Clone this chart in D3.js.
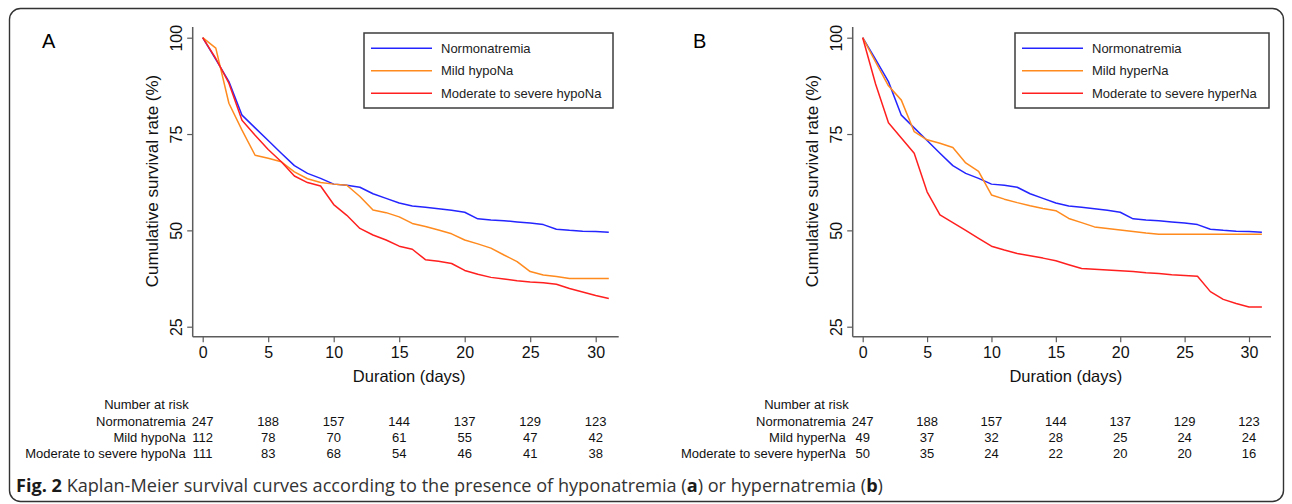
<!DOCTYPE html>
<html>
<head>
<meta charset="utf-8">
<script src="https://cdn.jsdelivr.net/npm/d3@7"></script>
<style>
  body { margin: 0; background: #fff; }
  svg { display: block; }
  text { font-family: "Liberation Sans", Arial, sans-serif; fill: #111; }
</style>
</head>
<body>
<div id="chart"></div>
<script>
// ---- data ----
const days = [0,1,2,3,4,5,6,7,8,9,10,11,12,13,14,15,16,17,18,19,20,21,22,23,24,25,26,27,28,29,30,31];

const normo    = [100,94.4,88.6,79.9,76.6,73.3,70.0,66.8,64.8,63.5,62.0,61.7,61.2,59.5,58.3,57.1,56.3,56.0,55.6,55.2,54.7,53.0,52.7,52.5,52.2,51.9,51.5,50.3,50.0,49.8,49.7,49.5];
const mildHypo = [100,97.3,83.0,76.0,69.5,68.7,67.8,65.2,63.4,62.4,62.0,61.7,58.8,55.3,54.6,53.5,51.8,51.0,50.1,49.1,47.5,46.5,45.4,43.6,41.9,39.3,38.4,38.0,37.5,37.5,37.5,37.5];
const sevHypo  = [100,94.6,88.2,78.6,74.7,71.0,67.8,64.1,62.4,61.5,56.7,53.9,50.5,48.8,47.5,45.9,45.1,42.4,42.0,41.4,39.6,38.6,37.8,37.4,36.9,36.6,36.4,36.0,34.9,34.0,33.1,32.3];
const mildHyper= [100,93.7,87.5,83.8,75.6,73.5,72.6,71.5,67.5,65.3,59.2,58.1,57.2,56.4,55.7,55.1,53.1,52.0,50.9,50.5,50.1,49.7,49.3,49.0,49.0,49.0,49.0,49.0,49.0,49.0,49.0,49.0];
const sevHyper = [100,88.0,77.9,74.0,70.0,60.0,54.0,52.0,50.0,47.9,45.9,44.9,44.0,43.4,42.8,42.1,41.1,40.1,39.9,39.7,39.5,39.3,39.0,38.8,38.5,38.3,38.1,34.1,32.1,31.0,30.1,30.1];

const xTicks = [0,5,10,15,20,25,30];
const yTicks = [25,50,75,100];

const namesA = ["Normonatremia", "Mild hypoNa", "Moderate to severe hypoNa"];
const namesB = ["Normonatremia", "Mild hyperNa", "Moderate to severe hyperNa"];

const riskTimes = [0,5,10,15,20,25,30];
const riskNormo     = [247,188,157,144,137,129,123];
const riskMildHypo  = [112,78,70,61,55,47,42];
const riskSevHypo   = [111,83,68,54,46,41,38];
const riskMildHyper = [49,37,32,28,25,24,24];
const riskSevHyper  = [50,35,24,22,20,20,16];

const colors = ["#2424ff", "#ff8a1e", "#ff1f1f"];
const axisColor = "#5c5c5c";

const W = 1292, H = 504;
const svg = d3.select("#chart").append("svg").attr("width", W).attr("height", H);

// outer frame
svg.append("rect")
  .attr("x", 9.5).attr("y", 8.5).attr("width", 1274).attr("height", 493)
  .attr("rx", 11).attr("ry", 11)
  .attr("fill", "none").attr("stroke", "#333").attr("stroke-width", 1.4);

const panels = [
  { tag: "A", tagX: 42, x0: 202.7, x30: 595.7, axisL: 192.7, axisR: 618.7,
    names: namesA, series: [normo, mildHypo, sevHypo],
    risk: [riskNormo, riskMildHypo, riskSevHypo],
    legend: { x: 364, w: 249 } },
  { tag: "B", tagX: 693, x0: 862.7, x30: 1249, axisL: 852.7, axisR: 1271,
    names: namesB, series: [normo, mildHyper, sevHyper],
    risk: [riskNormo, riskMildHyper, riskSevHyper],
    legend: { x: 1015, w: 254 } }
];

const y = d3.scaleLinear().domain([25, 100]).range([326.7, 37.7]);
const axisY = 336.7;

panels.forEach(p => {
  const x = d3.scaleLinear().domain([0, 30]).range([p.x0, p.x30]);
  const g = svg.append("g");

  // panel letter
  g.append("text").attr("x", p.tagX).attr("y", 47.5)
    .style("font-size", "20px").style("fill", "#000").text(p.tag);

  // axis lines
  g.append("line").attr("x1", p.axisL).attr("x2", p.axisL).attr("y1", 27).attr("y2", axisY)
    .attr("stroke", axisColor).attr("stroke-width", 1.5);
  g.append("line").attr("x1", p.axisL).attr("x2", p.axisR).attr("y1", axisY).attr("y2", axisY)
    .attr("stroke", axisColor).attr("stroke-width", 1.5);

  // x axis ticks
  const xa = g.append("g").attr("transform", `translate(0,${axisY})`)
    .call(d3.axisBottom(x).tickValues(xTicks).tickSize(5.5).tickPadding(4));
  xa.select(".domain").remove();
  xa.selectAll(".tick line").attr("stroke", axisColor).attr("stroke-width", 1.2);
  xa.selectAll(".tick text").style("font-size", "16px").style("font-family", "Liberation Sans, Arial, sans-serif").attr("fill", "#111");

  // y axis ticks
  const ya = g.append("g").attr("transform", `translate(${p.axisL},0)`)
    .call(d3.axisLeft(y).tickValues(yTicks).tickSize(5.5).tickFormat(d3.format("d")));
  ya.select(".domain").remove();
  ya.selectAll(".tick line").attr("stroke", axisColor).attr("stroke-width", 1.2);
  ya.selectAll(".tick text")
    .attr("x", 0).attr("dy", null)
    .attr("text-anchor", "middle")
    .attr("transform", "translate(-10.5,0) rotate(-90)")
    .style("font-size", "16px").style("font-family", "Liberation Sans, Arial, sans-serif").attr("fill", "#111");

  // axis titles
  g.append("text")
    .attr("transform", `translate(${p.axisL - 35},181) rotate(-90)`)
    .attr("text-anchor", "middle").style("font-size", "17px")
    .text("Cumulative survival rate (%)");
  g.append("text")
    .attr("x", (x(0) + x(30)) / 2 + 10).attr("y", 381.5)
    .attr("text-anchor", "middle").style("font-size", "16.5px")
    .text("Duration (days)");

  // curves
  const line = d3.line().x((d, i) => x(days[i])).y(d => y(d));
  p.series.forEach((s, k) => {
    g.append("path").datum(s).attr("d", line)
      .attr("fill", "none").attr("stroke", colors[k]).attr("stroke-width", 1.5)
      .attr("stroke-linejoin", "round");
  });

  // legend
  const lg = g.append("g");
  lg.append("rect").attr("x", p.legend.x).attr("y", 33).attr("width", p.legend.w).attr("height", 75)
    .attr("fill", "#fff").attr("stroke", "#3c3c3c").attr("stroke-width", 1.5);
  p.names.forEach((n, k) => {
    const ly = 48.3 + k * 22.5;
    lg.append("line").attr("x1", p.legend.x + 7).attr("x2", p.legend.x + 68)
      .attr("y1", ly).attr("y2", ly).attr("stroke", colors[k]).attr("stroke-width", 1.5);
    lg.append("text").attr("x", p.legend.x + 77).attr("y", ly + 4.6)
      .style("font-size", "13px").style("fill", "#222").text(n);
  });

  // number at risk table
  const labX = x(0) - 17;
  g.append("text").attr("x", labX + 3).attr("y", 409).attr("text-anchor", "end")
    .style("font-size", "13px").text("Number at risk");
  p.names.forEach((n, k) => {
    const ry = 426 + k * 16;
    g.append("text").attr("x", labX).attr("y", ry).attr("text-anchor", "end")
      .style("font-size", "13px").text(n);
    g.selectAll(null).data(p.risk[k]).enter().append("text")
      .attr("x", (d, i) => x(riskTimes[i])).attr("y", ry)
      .attr("text-anchor", "middle").style("font-size", "13px")
      .text(d => d);
  });
});

// caption
const cap = svg.append("text").attr("x", 16).attr("y", 492)
  .style("font-family", "'Open Sans', 'Noto Sans', sans-serif").style("font-size", "16px");
cap.append("tspan").style("font-weight", "bold").style("fill", "#1a1a1a").text("Fig. 2");
cap.append("tspan").style("fill", "#333").text(" Kaplan-Meier survival curves according to the presence of hyponatremia (");
cap.append("tspan").style("font-weight", "bold").style("fill", "#1a1a1a").text("a");
cap.append("tspan").style("fill", "#333").text(") or hypernatremia (");
cap.append("tspan").style("font-weight", "bold").style("fill", "#1a1a1a").text("b");
cap.append("tspan").style("fill", "#333").text(")");
// fit caption to the width it takes in the figure
const capLen = cap.node().getComputedTextLength();
cap.style("font-size", (16 * 868 / capLen).toFixed(2) + "px");
</script>
</body>
</html>
